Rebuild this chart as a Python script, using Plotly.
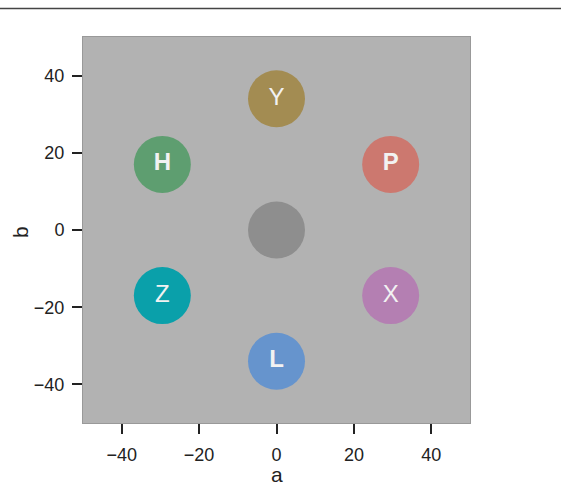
import plotly.graph_objects as go

# Node positions and styling per label
labels = ["", "Y", "P", "X", "L", "Z", "H"]
a_vals = [0.0, 0.0, 29.5, 29.5, 0.0, -29.5, -29.5]
b_vals = [0.0, 34.0, 17.0, -17.0, -34.0, -17.0, 17.0]
colors = ["#8e8e8e", "#a38c52", "#cc786f", "#b47fb2", "#6694cd", "#0aa0aa", "#5e9e70"]
bold = [False, False, True, False, True, False, True]

x_ticks = [-40, -20, 0, 20, 40]
y_ticks = [-40, -20, 0, 20, 40]

FONT = "Liberation Sans, Arial, sans-serif"
W, H = 561, 488
M = dict(l=83, r=91, t=37, b=65)
plot_w = W - M["l"] - M["r"]
plot_h = H - M["t"] - M["b"]

text = [f"<b>{t}</b>" if bb else t for t, bb in zip(labels, bold)]

fig = go.Figure()
fig.add_trace(go.Scatter(
    x=a_vals, y=b_vals, mode="markers+text",
    text=text, textposition="middle center",
    textfont=dict(family=FONT, size=24, color="#f2f2f2"),
    marker=dict(size=57, color=colors, line=dict(width=0)),
    showlegend=False, hoverinfo="skip",
))

axis_common = dict(
    range=[-50, 50], showgrid=False, zeroline=False, automargin=False,
    ticks="outside", ticklen=10, tickwidth=1.5, tickcolor="#222",
    showline=True, linecolor="#999", linewidth=1, mirror=True,
    tickfont=dict(family=FONT, size=18, color="#222"),
)

fig.update_xaxes(tickvals=x_ticks, ticktext=[str(v).replace("-", "\u2212") for v in x_ticks],
                 ticklabelstandoff=5, **axis_common)
fig.update_yaxes(tickvals=y_ticks, ticktext=[str(v).replace("-", "\u2212") for v in y_ticks],
                 ticklabelstandoff=4, **axis_common)

# axis titles placed in pixel terms relative to the plot area
title_font = dict(family=FONT, size=21, color="#222")
fig.add_annotation(text="a", xref="paper", yref="paper", x=0.5,
                   y=(H - M["b"] - 474) / plot_h, xanchor="center", yanchor="middle",
                   showarrow=False, font=title_font)
fig.add_annotation(text="b", xref="paper", yref="paper", x=(20 - M["l"]) / plot_w,
                   y=0.5 - 2 / plot_h, xanchor="center", yanchor="middle", textangle=-90,
                   showarrow=False, font=title_font)

# thin rule across the top of the page
rule_y = (H - M["b"] - 8.5) / plot_h
fig.add_shape(type="line", xref="paper", yref="paper",
              x0=-0.3, x1=1.3, y0=rule_y, y1=rule_y,
              line=dict(color="#444", width=1.5))

fig.update_layout(
    width=W, height=H, margin=M,
    plot_bgcolor="#b2b2b2", paper_bgcolor="white",
)

fig.write_html("out.html")
